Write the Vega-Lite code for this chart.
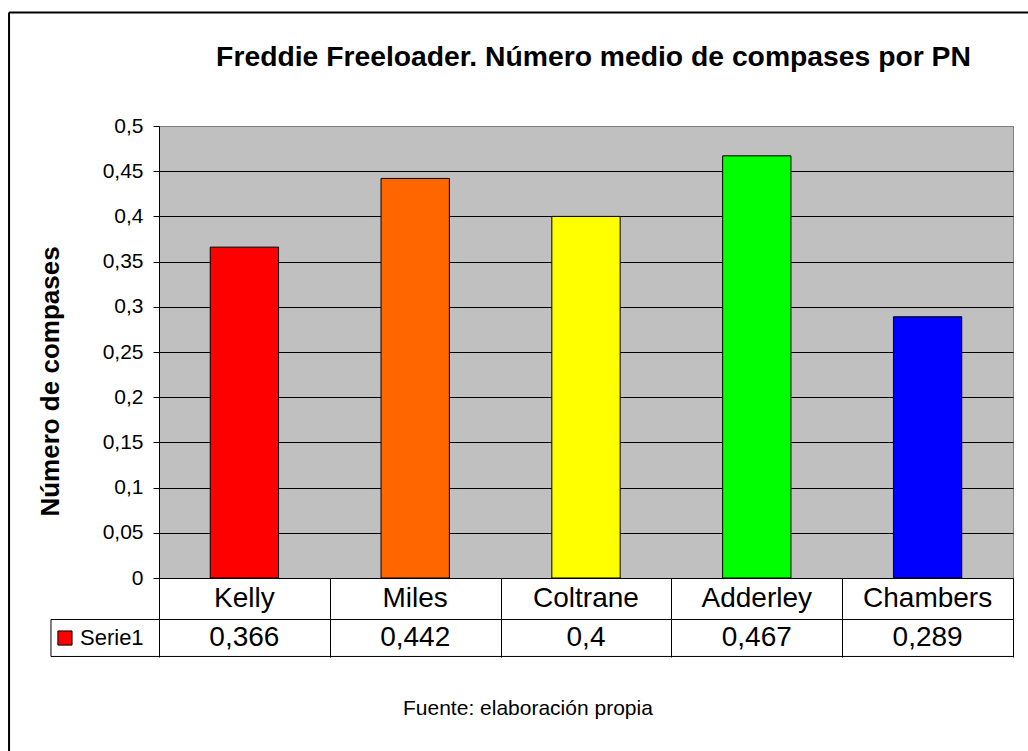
{
  "$schema": "https://vega.github.io/schema/vega-lite/v6.json",
  "width": 854,
  "height": 452,
  "autosize": "none",
  "padding": {"left": 159, "top": 126, "right": 15, "bottom": 173},
  "background": "white",
  "config": {
    "font": "Liberation Sans",
    "locale": {"number": {"decimal": ",", "thousands": ".", "grouping": [3], "currency": ["", " €"]}},
    "view": {"fill": "#C0C0C0", "stroke": "#808080", "strokeWidth": 1}
  },
  "data": {
    "values": [
      {"name": "Kelly", "value": 0.366},
      {"name": "Miles", "value": 0.442},
      {"name": "Coltrane", "value": 0.4},
      {"name": "Adderley", "value": 0.467},
      {"name": "Chambers", "value": 0.289}
    ]
  },
  "layer": [
    {
      "layer": [
        {
          "mark": {"type": "bar", "stroke": "black", "strokeWidth": 1},
          "encoding": {
            "x": {
              "field": "name", "type": "nominal", "sort": null,
              "scale": {"type": "band", "paddingInner": 0.6, "paddingOuter": 0.3},
              "axis": {
                "title": null, "labels": false, "ticks": false,
                "domain": true, "domainColor": "black", "domainWidth": 1, "grid": false
              }
            },
            "y": {
              "field": "value", "type": "quantitative",
              "scale": {"domain": [0, 0.5], "nice": false, "zero": false},
              "axis": {
                "values": [0, 0.05, 0.1, 0.15, 0.2, 0.25, 0.3, 0.35, 0.4, 0.45, 0.5],
                "format": ".2~f",
                "labelFontSize": 21, "labelColor": "black", "labelPadding": 10,
                "tickSize": 6, "tickColor": "black", "domainColor": "black",
                "grid": true,
                "gridColor": {"condition": {"test": "datum.value >= 0.5", "value": "#808080"}, "value": "black"},
                "gridWidth": 1, "gridOpacity": 1,
                "title": "Número de compases",
                "titleFontSize": 26, "titleFontWeight": "bold", "titleColor": "black",
                "titleAngle": -90, "titleX": -109, "titleY": 255,
                "titleAlign": "center", "titleBaseline": "middle"
              }
            },
            "color": {
              "field": "name", "type": "nominal",
              "scale": {
                "domain": ["Kelly", "Miles", "Coltrane", "Adderley", "Chambers"],
                "range": ["#FF0000", "#FF6600", "#FFFF00", "#00FF00", "#0000FF"]
              },
              "legend": null
            }
          }
        },
        {
          "mark": {"type": "text", "fontSize": 28, "color": "black", "baseline": "middle", "align": "center"},
          "encoding": {
            "x": {"field": "name", "type": "nominal", "sort": null, "scale": {"type": "band", "paddingInner": 0.6, "paddingOuter": 0.3}},
            "y": {"datum": -0.0227, "type": "quantitative", "scale": {"domain": [0, 0.5], "nice": false, "zero": false}},
            "text": {"field": "name"}
          }
        },
        {
          "mark": {"type": "text", "fontSize": 28, "color": "black", "baseline": "middle", "align": "center"},
          "encoding": {
            "x": {"field": "name", "type": "nominal", "sort": null, "scale": {"type": "band", "paddingInner": 0.6, "paddingOuter": 0.3}},
            "y": {"datum": -0.0664, "type": "quantitative", "scale": {"domain": [0, 0.5], "nice": false, "zero": false}},
            "text": {"field": "value", "type": "quantitative", "format": ".3~f"}
          }
        }
      ]
    },
    {
      "data": {"values": [{}]},
      "mark": {"type": "text", "text": "Freddie Freeloader. Número medio de compases por PN", "fontSize": 28.3, "fontWeight": "bold", "color": "black", "align": "center", "baseline": "middle"},
      "encoding": {
        "x": {"datum": 0.5088, "type": "quantitative", "scale": {"domain": [0, 1], "nice": false, "zero": false}, "axis": null},
        "y": {"datum": 0.5752, "type": "quantitative", "scale": {"domain": [0, 0.5], "nice": false, "zero": false}}
      }
    },
    {
      "data": {"values": [{}]},
      "mark": {"type": "rule", "color": "black", "strokeWidth": 1},
      "encoding": {
        "x": {"datum": -0.1265, "type": "quantitative", "scale": {"domain": [0, 1], "nice": false, "zero": false}, "axis": null},
        "x2": {"datum": 1},
        "y": {"datum": -0.0459, "type": "quantitative", "scale": {"domain": [0, 0.5], "nice": false, "zero": false}}
      }
    },
    {
      "data": {"values": [{}]},
      "mark": {"type": "rule", "color": "black", "strokeWidth": 1},
      "encoding": {
        "x": {"datum": -0.1265, "type": "quantitative", "scale": {"domain": [0, 1], "nice": false, "zero": false}, "axis": null},
        "x2": {"datum": 1},
        "y": {"datum": -0.0868, "type": "quantitative", "scale": {"domain": [0, 0.5], "nice": false, "zero": false}}
      }
    },
    {
      "data": {"values": [{}]},
      "mark": {"type": "rule", "color": "black", "strokeWidth": 1},
      "encoding": {
        "x": {"datum": -0.1265, "type": "quantitative", "scale": {"domain": [0, 1], "nice": false, "zero": false}, "axis": null},
        "y": {"datum": -0.0459, "type": "quantitative", "scale": {"domain": [0, 0.5], "nice": false, "zero": false}},
        "y2": {"datum": -0.0868}
      }
    },
    {
      "data": {"values": [{}]},
      "mark": {"type": "point", "shape": "square", "filled": true, "fill": "#FF0000", "stroke": "black", "strokeWidth": 1, "size": 200, "opacity": 1},
      "encoding": {
        "x": {"datum": -0.1101, "type": "quantitative", "scale": {"domain": [0, 1], "nice": false, "zero": false}, "axis": null},
        "y": {"datum": -0.0664, "type": "quantitative", "scale": {"domain": [0, 0.5], "nice": false, "zero": false}}
      }
    },
    {
      "data": {"values": [{}]},
      "mark": {"type": "text", "text": "Serie1", "fontSize": 22, "color": "black", "align": "left", "baseline": "middle"},
      "encoding": {
        "x": {"datum": -0.0925, "type": "quantitative", "scale": {"domain": [0, 1], "nice": false, "zero": false}, "axis": null},
        "y": {"datum": -0.0664, "type": "quantitative", "scale": {"domain": [0, 0.5], "nice": false, "zero": false}}
      }
    },
    {
      "data": {"values": [{}]},
      "mark": {"type": "text", "text": "Fuente: elaboración propia", "fontSize": 21, "color": "black", "align": "center", "baseline": "middle"},
      "encoding": {
        "x": {
          "datum": 0.432, "type": "quantitative",
          "scale": {"domain": [0, 1], "nice": false, "zero": false},
          "axis": {
            "orient": "bottom", "values": [0, 0.2, 0.4, 0.6, 0.8, 1],
            "labels": false, "domain": false, "grid": false, "title": null,
            "ticks": true, "tickSize": 79, "tickColor": "black", "tickWidth": 1
          }
        },
        "y": {"datum": -0.1444, "type": "quantitative", "scale": {"domain": [0, 0.5], "nice": false, "zero": false}}
      }
    },
    {
      "data": {"values": [{}]},
      "mark": {"type": "rule", "color": "black", "strokeWidth": 2},
      "encoding": {
        "x": {"datum": -0.1756, "type": "quantitative", "scale": {"domain": [0, 1], "nice": false, "zero": false}, "axis": null},
        "x2": {"datum": 1.1},
        "y": {"datum": 0.6256, "type": "quantitative", "scale": {"domain": [0, 0.5], "nice": false, "zero": false}}
      }
    },
    {
      "data": {"values": [{}]},
      "mark": {"type": "rule", "color": "black", "strokeWidth": 2},
      "encoding": {
        "x": {"datum": -0.1756, "type": "quantitative", "scale": {"domain": [0, 1], "nice": false, "zero": false}, "axis": null},
        "y": {"datum": 0.6256, "type": "quantitative", "scale": {"domain": [0, 0.5], "nice": false, "zero": false}},
        "y2": {"datum": -0.3}
      }
    }
  ],
  "resolve": {"scale": {"x": "independent"}}
}
